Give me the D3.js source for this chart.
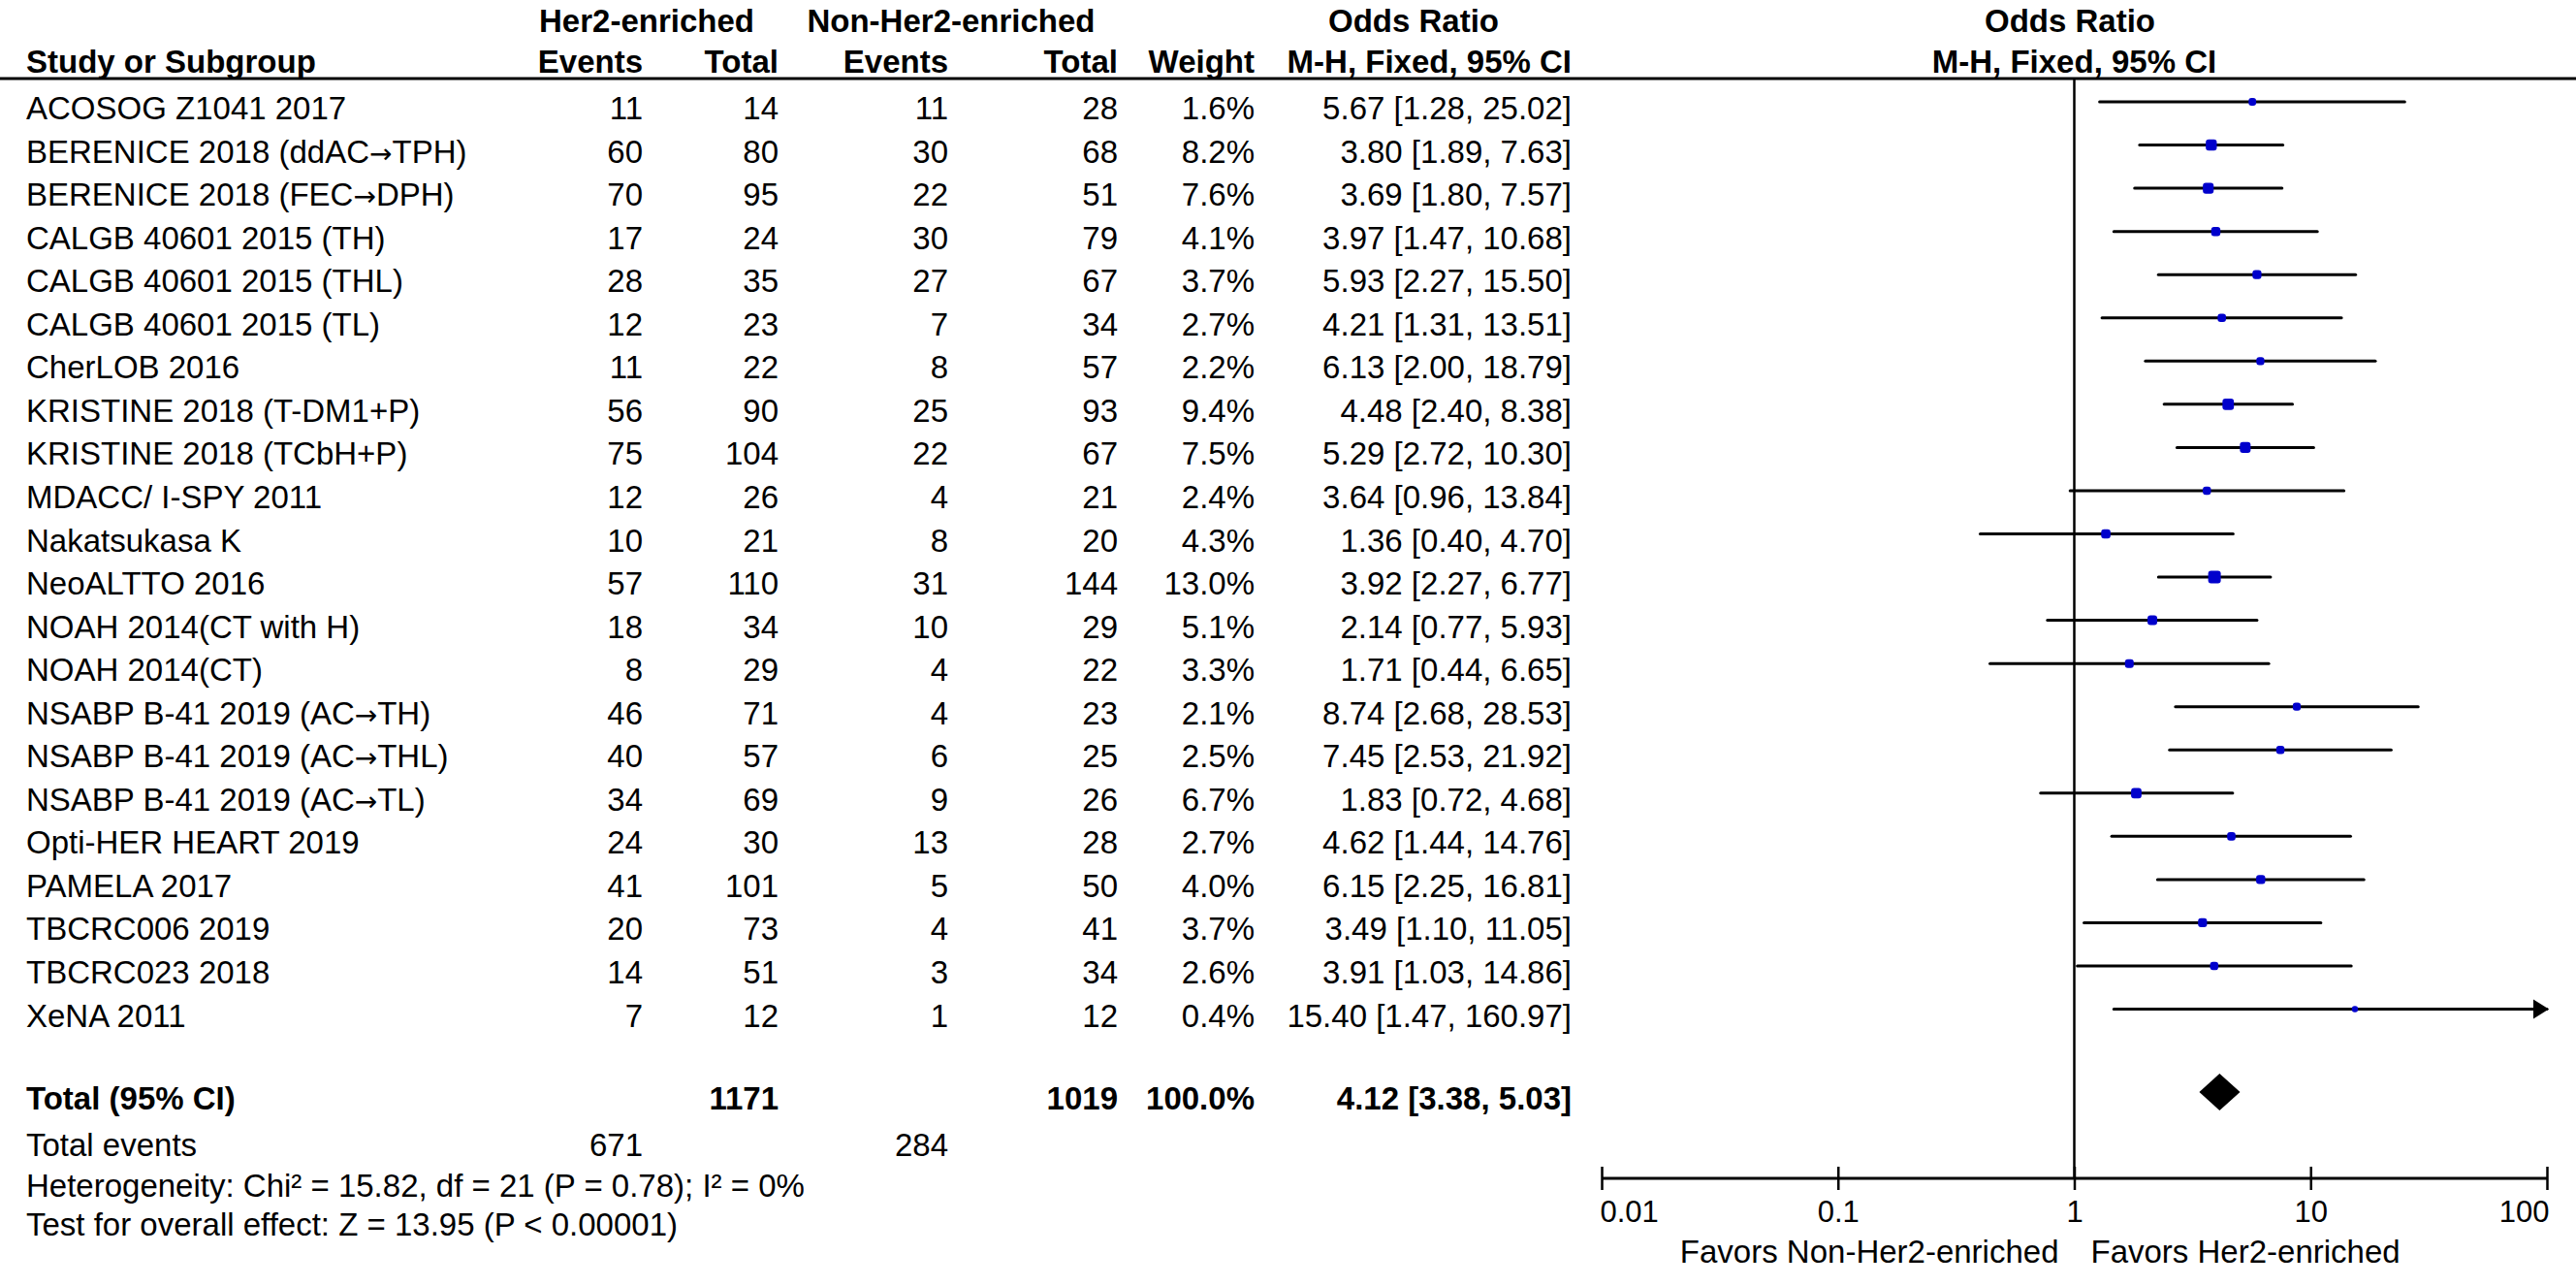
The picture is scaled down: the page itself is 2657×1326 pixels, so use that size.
<!DOCTYPE html>
<html lang="en">
<head>
    <meta charset="UTF-8">
    <title>Forest plot</title>
    <script src="https://d3js.org/d3.v7.min.js"></script>
    <style>
        body { margin: 0; background: #fff; }
        text { font-family: "Liberation Sans", Arial, sans-serif; font-size: 33px; fill: #000; }
        .bold { font-weight: bold; }
        .tick-label { font-size: 31px; }
        .arrow { font-family: "DejaVu Sans", sans-serif; font-size: 28px; }
    </style>
</head>
<body>
    <div id="chart"></div>
    <script>

        const studies = [
            "ACOSOG Z1041 2017", "BERENICE 2018 (ddAC\u2192TPH)", "BERENICE 2018 (FEC\u2192DPH)",
            "CALGB 40601 2015 (TH)", "CALGB 40601 2015 (THL)", "CALGB 40601 2015 (TL)",
            "CherLOB 2016", "KRISTINE 2018 (T-DM1+P)", "KRISTINE 2018 (TCbH+P)",
            "MDACC/ I-SPY 2011", "Nakatsukasa K", "NeoALTTO 2016", "NOAH 2014(CT with H)",
            "NOAH 2014(CT)", "NSABP B-41 2019 (AC\u2192TH)", "NSABP B-41 2019 (AC\u2192THL)",
            "NSABP B-41 2019 (AC\u2192TL)", "Opti-HER HEART 2019", "PAMELA 2017",
            "TBCRC006 2019", "TBCRC023 2018", "XeNA 2011"
        ];
        const her2Events = [11, 60, 70, 17, 28, 12, 11, 56, 75, 12, 10, 57, 18, 8, 46, 40, 34, 24, 41, 20, 14, 7];
        const her2Total  = [14, 80, 95, 24, 35, 23, 22, 90, 104, 26, 21, 110, 34, 29, 71, 57, 69, 30, 101, 73, 51, 12];
        const nonEvents  = [11, 30, 22, 30, 27, 7, 8, 25, 22, 4, 8, 31, 10, 4, 4, 6, 9, 13, 5, 4, 3, 1];
        const nonTotal   = [28, 68, 51, 79, 67, 34, 57, 93, 67, 21, 20, 144, 29, 22, 23, 25, 26, 28, 50, 41, 34, 12];
        const weights    = [1.6, 8.2, 7.6, 4.1, 3.7, 2.7, 2.2, 9.4, 7.5, 2.4, 4.3, 13.0, 5.1, 3.3, 2.1, 2.5, 6.7, 2.7, 4.0, 3.7, 2.6, 0.4];
        const oddsRatio  = [5.67, 3.80, 3.69, 3.97, 5.93, 4.21, 6.13, 4.48, 5.29, 3.64, 1.36, 3.92, 2.14, 1.71, 8.74, 7.45, 1.83, 4.62, 6.15, 3.49, 3.91, 15.40];
        const ciLow      = [1.28, 1.89, 1.80, 1.47, 2.27, 1.31, 2.00, 2.40, 2.72, 0.96, 0.40, 2.27, 0.77, 0.44, 2.68, 2.53, 0.72, 1.44, 2.25, 1.10, 1.03, 1.47];
        const ciHigh     = [25.02, 7.63, 7.57, 10.68, 15.50, 13.51, 18.79, 8.38, 10.30, 13.84, 4.70, 6.77, 5.93, 6.65, 28.53, 21.92, 4.68, 14.76, 16.81, 11.05, 14.86, 160.97];

        const totalHer2 = 1171, totalNon = 1019, eventsHer2 = 671, eventsNon = 284;
        const pooled = [4.12, 3.38, 5.03];
        const tickValues = [0.01, 0.1, 1, 10, 100];
        const tickLabels = ["0.01", "0.1", "1", "10", "100"];

        const width = 2657, height = 1326;
        const cols = { e1: 663, t1: 803, e2: 978, t2: 1153, w: 1294, ci: 1621 };
        const axisY = 1215, headerLineY = 81;

        const svg = d3.select("#chart").append("svg")
            .attr("width", width)
            .attr("height", height);

        const x = d3.scaleLog().domain([0.01, 100]).range([1652, 2627]);
        const y = d3.scalePoint().domain(studies).range([111, 111 + 21 * 44.55]);
        const size = d3.scaleSqrt().domain([0, 13]).range([5, 13]);
        const f2 = d3.format(".2f");
        const ciText = (o, l, h) => `${f2(o)} [${f2(l)}, ${f2(h)}]`;

        function txt(str, xPos, yPos, anchor, cls) {
            return svg.append("text")
                .attr("x", xPos).attr("y", yPos)
                .attr("text-anchor", anchor || "start")
                .attr("class", cls || null)
                .text(str);
        }

        // header
        txt("Her2-enriched", 667, 33, "middle", "bold");
        txt("Non-Her2-enriched", 981, 33, "middle", "bold");
        txt("Odds Ratio", 1458, 33, "middle", "bold");
        txt("Odds Ratio", 2135, 33, "middle", "bold");
        txt("Study or Subgroup", 27, 75, "start", "bold");
        txt("Events", cols.e1, 75, "end", "bold");
        txt("Total", cols.t1, 75, "end", "bold");
        txt("Events", cols.e2, 75, "end", "bold");
        txt("Total", cols.t2, 75, "end", "bold");
        txt("Weight", cols.w, 75, "end", "bold");
        txt("M-H, Fixed, 95% CI", cols.ci, 75, "end", "bold");
        txt("M-H, Fixed, 95% CI", x(1), 75, "middle", "bold");

        svg.append("line")
            .attr("x1", 0).attr("x2", width)
            .attr("y1", headerLineY).attr("y2", headerLineY)
            .attr("stroke", "#000").attr("stroke-width", 3);

        // table rows
        studies.forEach((s, i) => {
            const base = y(s) + 12;
            // study name, arrow drawn with a font that has a compact glyph
            const name = svg.append("text").attr("x", 27).attr("y", base);
            s.split("\u2192").forEach((part, k) => {
                if (k > 0) name.append("tspan").attr("class", "arrow").text("\u2192");
                name.append("tspan").text(part);
            });
            txt(her2Events[i], cols.e1, base, "end");
            txt(her2Total[i], cols.t1, base, "end");
            txt(nonEvents[i], cols.e2, base, "end");
            txt(nonTotal[i], cols.t2, base, "end");
            txt(weights[i].toFixed(1) + "%", cols.w, base, "end");
            txt(ciText(oddsRatio[i], ciLow[i], ciHigh[i]), cols.ci, base, "end");
        });

        // totals
        const totalY = 1132;
        txt("Total (95% CI)", 27, totalY + 12, "start", "bold");
        txt(totalHer2, cols.t1, totalY + 12, "end", "bold");
        txt(totalNon, cols.t2, totalY + 12, "end", "bold");
        txt("100.0%", cols.w, totalY + 12, "end", "bold");
        txt(ciText(pooled[0], pooled[1], pooled[2]), cols.ci, totalY + 12, "end", "bold");
        txt("Total events", 27, 1192);
        txt(eventsHer2, cols.e1, 1192, "end");
        txt(eventsNon, cols.e2, 1192, "end");
        txt("Heterogeneity: Chi\u00b2 = 15.82, df = 21 (P = 0.78); I\u00b2 = 0%", 27, 1234);
        txt("Test for overall effect: Z = 13.95 (P < 0.00001)", 27, 1274);

        // line of no effect
        svg.append("line")
            .attr("x1", x(1)).attr("x2", x(1))
            .attr("y1", headerLineY).attr("y2", axisY)
            .attr("stroke", "#000").attr("stroke-width", 2.5);

        // confidence intervals
        const [xMin, xMax] = x.domain();
        studies.forEach((s, i) => {
            const cy = y(s) - 6;
            const lo = Math.max(ciLow[i], xMin);
            const hi = Math.min(ciHigh[i], xMax);
            svg.append("line")
                .attr("x1", x(lo)).attr("x2", x(hi))
                .attr("y1", cy).attr("y2", cy)
                .attr("stroke", "#000").attr("stroke-width", 3)
                .attr("stroke-linecap", "round");
            if (ciHigh[i] > xMax) {
                const tip = x(xMax) + 2;
                svg.append("path")
                    .attr("d", `M${tip},${cy} L${tip - 16},${cy - 10} L${tip - 16},${cy + 10} Z`)
                    .attr("fill", "#000");
            }
            const sz = size(weights[i]);
            svg.append("rect")
                .attr("x", x(oddsRatio[i]) - sz / 2)
                .attr("y", cy - sz / 2)
                .attr("width", sz).attr("height", sz)
                .attr("rx", 3)
                .attr("fill", "#0000cc");
        });

        // pooled diamond
        const dy = totalY - 6;
        svg.append("path")
            .attr("d", `M${x(pooled[1])},${dy} L${x(pooled[0])},${dy - 19} L${x(pooled[2])},${dy} L${x(pooled[0])},${dy + 19} Z`)
            .attr("fill", "#000");

        // axis
        const axis = svg.append("g")
            .attr("transform", `translate(0,${axisY})`)
            .call(d3.axisBottom(x)
                .tickValues(tickValues)
                .tickFormat((d, i) => tickLabels[i])
                .tickSizeOuter(0));
        axis.select(".domain")
            .attr("d", `M${x(xMin)},0H${x(xMax)}`)
            .attr("stroke", "#000").attr("stroke-width", 3);
        axis.selectAll(".tick line")
            .attr("y1", -12).attr("y2", 12)
            .attr("stroke", "#000").attr("stroke-width", 2.5);
        axis.selectAll(".tick text")
            .attr("class", "tick-label")
            .attr("y", 45).attr("dy", 0)
            .attr("text-anchor", (d, i) => i === 0 ? "start" : i === tickValues.length - 1 ? "end" : "middle")
            .attr("dx", (d, i) => i === 0 ? -2 : i === tickValues.length - 1 ? 2 : 0);
        axis.attr("font-family", null).attr("font-size", null);

        txt("Favors Non-Her2-enriched", x(1) - 16, 1302, "end");
        txt("Favors Her2-enriched", x(1) + 17, 1302, "start");

    </script>
</body>
</html>
